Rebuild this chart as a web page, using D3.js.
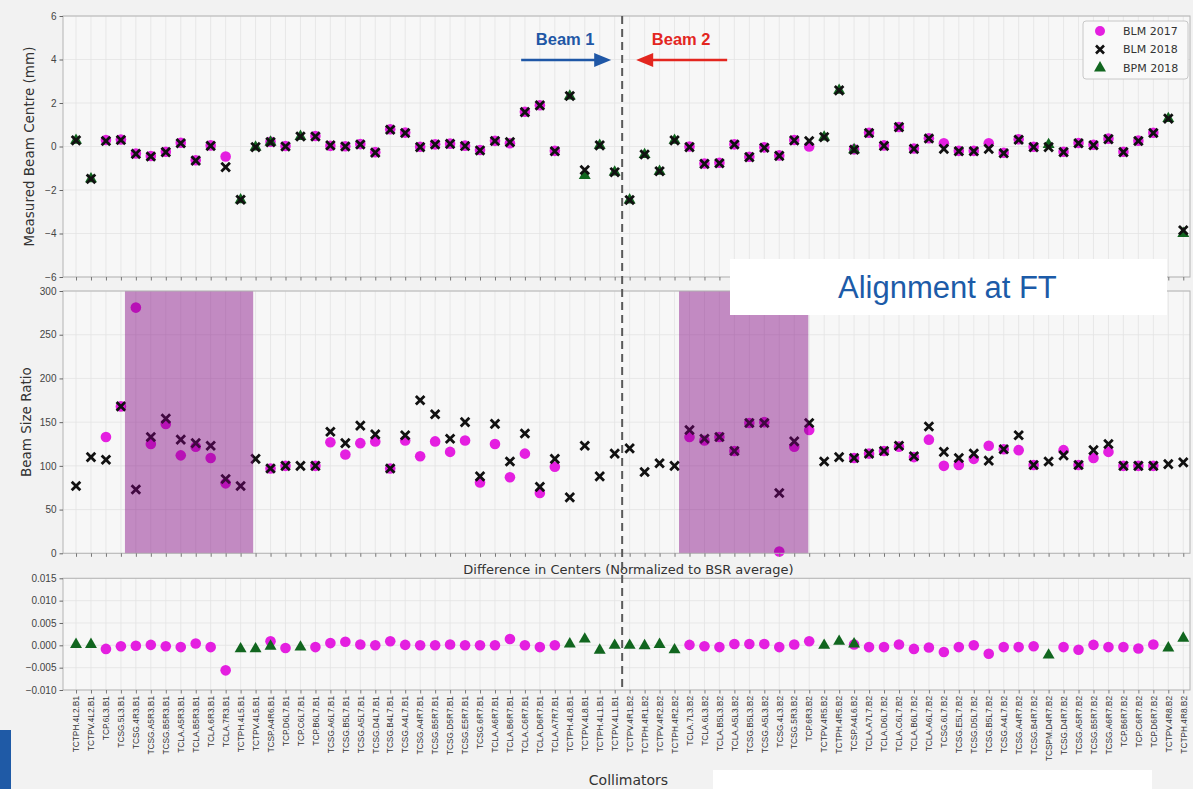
<!DOCTYPE html>
<html>
<head>
<meta charset="utf-8">
<script src="https://cdn.jsdelivr.net/npm/d3@7"></script>
<style>
  html, body { margin: 0; padding: 0; background: #f2f2f2; }
  svg { display: block; font-family: "DejaVu Sans", sans-serif; }
</style>
</head>
<body>
<svg id="chart" width="1193" height="789"></svg>
<script>
// ---- collimators, Beam 1 first (left to right), then Beam 2 ----
const collimators = [
  "TCTPH.4L2.B1","TCTPV.4L2.B1","TCP.6L3.B1","TCSG.5L3.B1","TCSG.4R3.B1","TCSG.A5R3.B1","TCSG.B5R3.B1",
  "TCLA.A5R3.B1","TCLA.B5R3.B1","TCLA.6R3.B1","TCLA.7R3.B1","TCTPH.4L5.B1","TCTPV.4L5.B1","TCSP.A4R6.B1",
  "TCP.D6L7.B1","TCP.C6L7.B1","TCP.B6L7.B1","TCSG.A6L7.B1","TCSG.B5L7.B1","TCSG.A5L7.B1","TCSG.D4L7.B1",
  "TCSG.B4L7.B1","TCSG.A4L7.B1","TCSG.A4R7.B1","TCSG.B5R7.B1","TCSG.D5R7.B1","TCSG.E5R7.B1","TCSG.6R7.B1",
  "TCLA.A6R7.B1","TCLA.B6R7.B1","TCLA.C6R7.B1","TCLA.D6R7.B1","TCLA.A7R7.B1","TCTPH.4L8.B1","TCTPV.4L8.B1",
  "TCTPH.4L1.B1","TCTPV.4L1.B1",
  "TCTPV.4R1.B2","TCTPH.4R1.B2","TCTPV.4R2.B2","TCTPH.4R2.B2","TCLA.7L3.B2","TCLA.6L3.B2","TCLA.B5L3.B2",
  "TCLA.A5L3.B2","TCSG.B5L3.B2","TCSG.A5L3.B2","TCSG.4L3.B2","TCSG.5R3.B2","TCP.6R3.B2","TCTPV.4R5.B2",
  "TCTPH.4R5.B2","TCSP.A4L6.B2","TCLA.A7L7.B2","TCLA.D6L7.B2","TCLA.C6L7.B2","TCLA.B6L7.B2","TCLA.A6L7.B2",
  "TCSG.6L7.B2","TCSG.E5L7.B2","TCSG.D5L7.B2","TCSG.B5L7.B2","TCSG.A4L7.B2","TCSG.A4R7.B2","TCSG.B4R7.B2",
  "TCSPM.D4R7.B2","TCSG.D4R7.B2","TCSG.A5R7.B2","TCSG.B5R7.B2","TCSG.A6R7.B2","TCP.B6R7.B2","TCP.C6R7.B2",
  "TCP.D6R7.B2","TCTPV.4R8.B2","TCTPH.4R8.B2"
];
const beam1Count = 37;

// ---- measured beam centre (mm) ----
const blm2017Centre = [
  null,null,0.30,0.32,-0.32,-0.44,-0.24,0.17,-0.63,0.05,
  -0.46,null,null,0.22,0.02,null,0.48,0.03,0.01,0.11,
  -0.26,0.79,0.64,-0.01,0.10,0.13,0.04,-0.16,0.26,0.15,
  1.60,1.90,-0.20,null,null,null,null,null,null,null,
  null,0.00,-0.78,-0.75,0.10,-0.47,-0.04,-0.41,0.30,0.00,
  null,null,-0.13,0.63,0.05,0.90,-0.09,0.38,0.15,-0.20,
  -0.20,0.15,-0.29,0.33,-0.01,null,-0.24,0.16,0.08,0.36,
  -0.24,0.27,0.63,null,null
];
const blm2018Centre = [
  0.28,-1.49,0.25,0.30,-0.34,-0.46,-0.26,0.15,-0.65,0.03,
  -0.95,-2.45,-0.03,0.20,0.00,0.46,0.46,0.05,0.00,0.09,
  -0.28,0.77,0.62,-0.03,0.09,0.12,0.02,-0.18,0.25,0.20,
  1.58,1.89,-0.22,2.32,-1.08,0.05,-1.18,-2.46,-0.37,-1.14,
  0.28,-0.03,-0.80,-0.77,0.09,-0.49,-0.06,-0.43,0.28,0.25,
  0.43,2.58,-0.15,0.62,0.03,0.89,-0.11,0.37,-0.11,-0.22,
  -0.22,-0.11,-0.31,0.31,-0.03,-0.03,-0.26,0.15,0.06,0.34,
  -0.26,0.25,0.62,1.28,-3.85
];
const bpm2018Centre = [
  0.28,-1.49,null,null,null,null,null,null,null,null,
  null,-2.45,-0.03,0.20,null,0.46,null,null,null,null,
  null,null,null,null,null,null,null,null,null,null,
  null,null,null,2.32,-1.34,0.05,-1.18,-2.46,-0.37,-1.14,
  0.28,null,null,null,null,null,null,null,null,null,
  0.43,2.58,-0.15,null,null,null,null,null,null,null,
  null,null,null,null,null,0.09,null,null,null,null,
  null,null,null,1.28,-4.00
];

// ---- beam size ratio ----
const blm2017Ratio = [
  null,null,133,168,281,125,148,112,122,109,
  80,null,null,97,100,null,100,127,113,126,
  128,97,129,111,128,116,129,81,125,87,
  114,69,99,null,null,null,null,null,null,null,
  null,133,129,133,117,149,150,2,122,141,
  null,null,109,114,117,122,110,130,100,101,
  108,123,119,118,101,null,118,101,109,116,
  100,100,100,null,null
];
const blm2018Ratio = [
  77,110,107,168,73,133,154,130,126,123,
  85,77,108,97,100,100,100,139,126,146,
  136,97,135,175,159,131,150,88,148,105,
  137,76,108,64,123,88,114,120,93,103,
  100,141,131,133,117,149,149,69,128,149,
  105,110,109,114,117,123,111,145,116,109,
  114,106,119,135,101,105,112,101,118,125,
  100,100,100,102,104
];

// ---- difference in centres (normalized to BSR average) ----
const blm2017Diff = [
  null,null,-0.0008,-0.0002,-0.0001,0.0001,-0.0002,-0.0004,0.0004,-0.0004,
  -0.0056,null,null,0.0009,-0.0006,null,-0.0004,0.0005,0.0008,0.0002,
  0.0000,0.0009,0.0001,0.0000,0.0000,0.0002,0.0000,0.0000,0.0000,0.0014,
  0.0000,-0.0004,0.0000,null,null,null,null,null,null,null,
  null,0.0001,-0.0002,-0.0004,0.0003,0.0003,0.0003,-0.0004,0.0002,0.0009,
  null,null,0.0002,-0.0004,-0.0004,0.0002,-0.0008,-0.0005,-0.0015,-0.0004,
  0.0000,-0.0019,-0.0004,-0.0004,-0.0002,null,-0.0004,-0.0010,0.0001,-0.0004,
  -0.0004,-0.0007,0.0002,null,null
];
const bpm2018Diff = [
  0.0002,0.0002,null,null,null,null,null,null,null,null,
  null,-0.0008,-0.0008,-0.0002,null,-0.0004,null,null,null,null,
  null,null,null,null,null,null,null,null,null,null,
  null,null,null,0.0003,0.0014,-0.0011,0.0000,0.0000,-0.0001,0.0002,
  -0.0010,null,null,null,null,null,null,null,null,null,
  0.0000,0.0009,0.0003,null,null,null,null,null,null,null,
  null,null,null,null,null,-0.0022,null,null,null,null,
  null,null,null,-0.0006,0.0016
];

// ---- axis ticks and highlighted ranges (in collimator index units) ----
const centreTicks = [-6,-4,-2,0,2,4,6];
const ratioTicks = [0,50,100,150,200,250,300];
const diffTicks = [-0.010,-0.005,0.000,0.005,0.010,0.015];
const shadedRanges = [[3.27, 11.84], [40.3, 48.94]];
const seriesNames = ["BLM 2017", "BLM 2018", "BPM 2018"];

// ---- styles ----
const PINK = "#e41fe0", GREEN = "#11661f", BLACK = "#111";
const AXBG = "#f7f7f7", GRID = "#e3e3e3", FRAME = "#b4b4b4";
const BLUE = "#1f57a6", RED = "#e3261f";

const svg = d3.select("#chart");
const left = 63, right = 1190;
const idx = d3.range(collimators.length);
const x = d3.scaleLinear().domain([-0.87, 74.45]).range([left, right]);

const panels = {
  centre: { top: 16, bottom: 277, y: d3.scaleLinear().domain([-6, 6]).range([277, 16]), ticks: centreTicks, fmt: d3.format("d") },
  ratio:  { top: 291, bottom: 553.3, y: d3.scaleLinear().domain([0, 300]).range([553.3, 291]), ticks: ratioTicks, fmt: d3.format("d") },
  diff:   { top: 578.3, bottom: 690, y: d3.scaleLinear().domain([-0.010, 0.015]).range([690, 578.3]), ticks: diffTicks, fmt: d3.format(".3f") }
};

function drawFrame(p, showLabels) {
  const g = svg.append("g");
  g.append("rect").attr("x", left).attr("y", p.top).attr("width", right - left)
    .attr("height", p.bottom - p.top).attr("fill", AXBG);
  g.selectAll("line.vg").data(idx).join("line")
    .attr("x1", d => x(d)).attr("x2", d => x(d)).attr("y1", p.top).attr("y2", p.bottom)
    .attr("stroke", GRID).attr("stroke-width", 0.8);
  g.selectAll("line.hg").data(p.ticks).join("line")
    .attr("x1", left).attr("x2", right).attr("y1", d => p.y(d)).attr("y2", d => p.y(d))
    .attr("stroke", GRID).attr("stroke-width", 0.8);
  p.g = g;
}

function drawAxes(p, showLabels) {
  const g = svg.append("g");
  g.append("rect").attr("x", left).attr("y", p.top).attr("width", right - left)
    .attr("height", p.bottom - p.top).attr("fill", "none").attr("stroke", FRAME).attr("stroke-width", 1);
  const ya = g.append("g").attr("transform", `translate(${left},0)`)
    .call(d3.axisLeft(p.y).tickValues(p.ticks).tickFormat(p.fmt).tickSize(3.5).tickPadding(3));
  ya.select(".domain").remove();
  ya.selectAll("line").attr("stroke", "#666");
  ya.selectAll("text").attr("fill", "#444").style("font-size", "10px");
  const xa = g.append("g").attr("transform", `translate(0,${p.bottom})`)
    .call(d3.axisBottom(x).tickValues(idx).tickSize(3.5)
      .tickFormat(d => showLabels ? collimators[d] : ""));
  xa.select(".domain").remove();
  xa.selectAll("line").attr("stroke", "#777");
  if (showLabels) {
    xa.selectAll("text")
      .attr("transform", "rotate(-90)").attr("text-anchor", "end")
      .attr("x", -6).attr("y", 0).attr("dy", "0.33em")
      .attr("fill", "#333").style("font-size", "8.3px");
  }
}

function circles(p, values, r) {
  svg.append("g").selectAll("circle").data(idx.filter(i => values[i] != null)).join("circle")
    .attr("cx", i => x(i)).attr("cy", i => p.y(values[i])).attr("r", r).attr("fill", PINK);
}
function crosses(p, values, s) {
  svg.append("g").selectAll("path").data(idx.filter(i => values[i] != null)).join("path")
    .attr("transform", i => `translate(${x(i)},${p.y(values[i])})`)
    .attr("d", `M${-s},${-s}L${s},${s}M${-s},${s}L${s},${-s}`)
    .attr("stroke", BLACK).attr("stroke-width", 2.8).attr("fill", "none");
}
const tri = d3.symbol().type(d3.symbolTriangle).size(62);
function triangles(p, values) {
  svg.append("g").selectAll("path").data(idx.filter(i => values[i] != null)).join("path")
    .attr("transform", i => `translate(${x(i)},${p.y(values[i])})`)
    .attr("d", tri).attr("fill", GREEN);
}

// top panel: measured beam centre
drawFrame(panels.centre);
circles(panels.centre, blm2017Centre, 5.3);
triangles(panels.centre, bpm2018Centre);
crosses(panels.centre, blm2018Centre, 4.3);
drawAxes(panels.centre, false);

// middle panel: beam size ratio with highlighted collimator groups
drawFrame(panels.ratio);
circles(panels.ratio, blm2017Ratio, 5.3);
crosses(panels.ratio, blm2018Ratio, 4.3);
svg.append("g").selectAll("rect").data(shadedRanges).join("rect")
  .attr("x", d => x(d[0])).attr("width", d => x(d[1]) - x(d[0]))
  .attr("y", panels.ratio.top).attr("height", panels.ratio.bottom - panels.ratio.top)
  .attr("fill", "#800080").attr("fill-opacity", 0.44);
drawAxes(panels.ratio, false);

// bottom panel: difference in centres
drawFrame(panels.diff);
circles(panels.diff, blm2017Diff, 5.3);
triangles(panels.diff, bpm2018Diff);
drawAxes(panels.diff, true);

// axis titles
svg.append("text").attr("transform", `translate(34,${(panels.centre.top + panels.centre.bottom) / 2}) rotate(-90)`)
  .attr("text-anchor", "middle").attr("fill", "#333").style("font-size", "13.5px").text("Measured Beam Centre (mm)");
svg.append("text").attr("transform", `translate(31,${(panels.ratio.top + panels.ratio.bottom) / 2}) rotate(-90)`)
  .attr("text-anchor", "middle").attr("fill", "#333").style("font-size", "13.5px").text("Beam Size Ratio");
svg.append("text").attr("x", (left + right) / 2 + 2).attr("y", 574)
  .attr("text-anchor", "middle").attr("fill", "#333").style("font-size", "13px")
  .text("Difference in Centers (Normalized to BSR average)");
svg.append("text").attr("x", (left + right) / 2 + 2).attr("y", 785)
  .attr("text-anchor", "middle").attr("fill", "#333").style("font-size", "14px").text("Collimators");

// beam separator
const split = x(beam1Count - 0.5);
svg.append("line").attr("x1", split).attr("x2", split).attr("y1", panels.centre.top).attr("y2", panels.diff.bottom)
  .attr("stroke", "#5a5a5a").attr("stroke-width", 2).attr("stroke-dasharray", "8,5");

// beam direction annotations
const ay = 60;
svg.append("text").attr("x", split - 57).attr("y", 45).attr("text-anchor", "middle")
  .attr("fill", BLUE).style("font-family", "Liberation Sans, Arial, sans-serif")
  .style("font-weight", "bold").style("font-size", "16.5px").text("Beam 1");
svg.append("line").attr("x1", split - 101).attr("x2", split - 26).attr("y1", ay).attr("y2", ay)
  .attr("stroke", BLUE).attr("stroke-width", 2.6);
svg.append("path").attr("d", `M${split - 28},${ay - 7}L${split - 11},${ay}L${split - 28},${ay + 7}Z`).attr("fill", BLUE);
svg.append("text").attr("x", split + 59).attr("y", 45).attr("text-anchor", "middle")
  .attr("fill", RED).style("font-family", "Liberation Sans, Arial, sans-serif")
  .style("font-weight", "bold").style("font-size", "16.5px").text("Beam 2");
svg.append("line").attr("x1", split + 105).attr("x2", split + 28).attr("y1", ay).attr("y2", ay)
  .attr("stroke", RED).attr("stroke-width", 2.6);
svg.append("path").attr("d", `M${split + 31},${ay - 7}L${split + 14},${ay}L${split + 31},${ay + 7}Z`).attr("fill", RED);

// legend
const lg = svg.append("g").attr("transform", "translate(1083,21)");
lg.append("rect").attr("width", 105).attr("height", 58).attr("rx", 3)
  .attr("fill", "#f9f9f9").attr("stroke", "#c8c8c8");
seriesNames.forEach((name, k) => {
  const row = lg.append("g").attr("transform", `translate(17,${10 + k * 18.5})`);
  if (k === 0) row.append("circle").attr("r", 5).attr("fill", PINK);
  if (k === 1) row.append("path").attr("d", "M-4,-4L4,4M-4,4L4,-4").attr("stroke", BLACK).attr("stroke-width", 2.6);
  if (k === 2) row.append("path").attr("d", tri).attr("fill", GREEN);
  row.append("text").attr("x", 23).attr("dy", "0.35em").attr("fill", "#333")
    .style("font-size", "11px").text(name);
});

// slide overlays
svg.append("rect").attr("x", 730).attr("y", 259).attr("width", 437).attr("height", 56).attr("fill", "#fff");
svg.append("text").attr("x", 838).attr("y", 298).attr("fill", "#1c5ba8")
  .style("font-family", "Liberation Sans, Arial, sans-serif").style("font-size", "31px").text("Alignment at FT");
svg.append("rect").attr("x", 713).attr("y", 770).attr("width", 439).attr("height", 19).attr("fill", "#fff");
svg.append("rect").attr("x", 0).attr("y", 730).attr("width", 11).attr("height", 59).attr("fill", "#1f5aa6");
</script>
</body>
</html>
